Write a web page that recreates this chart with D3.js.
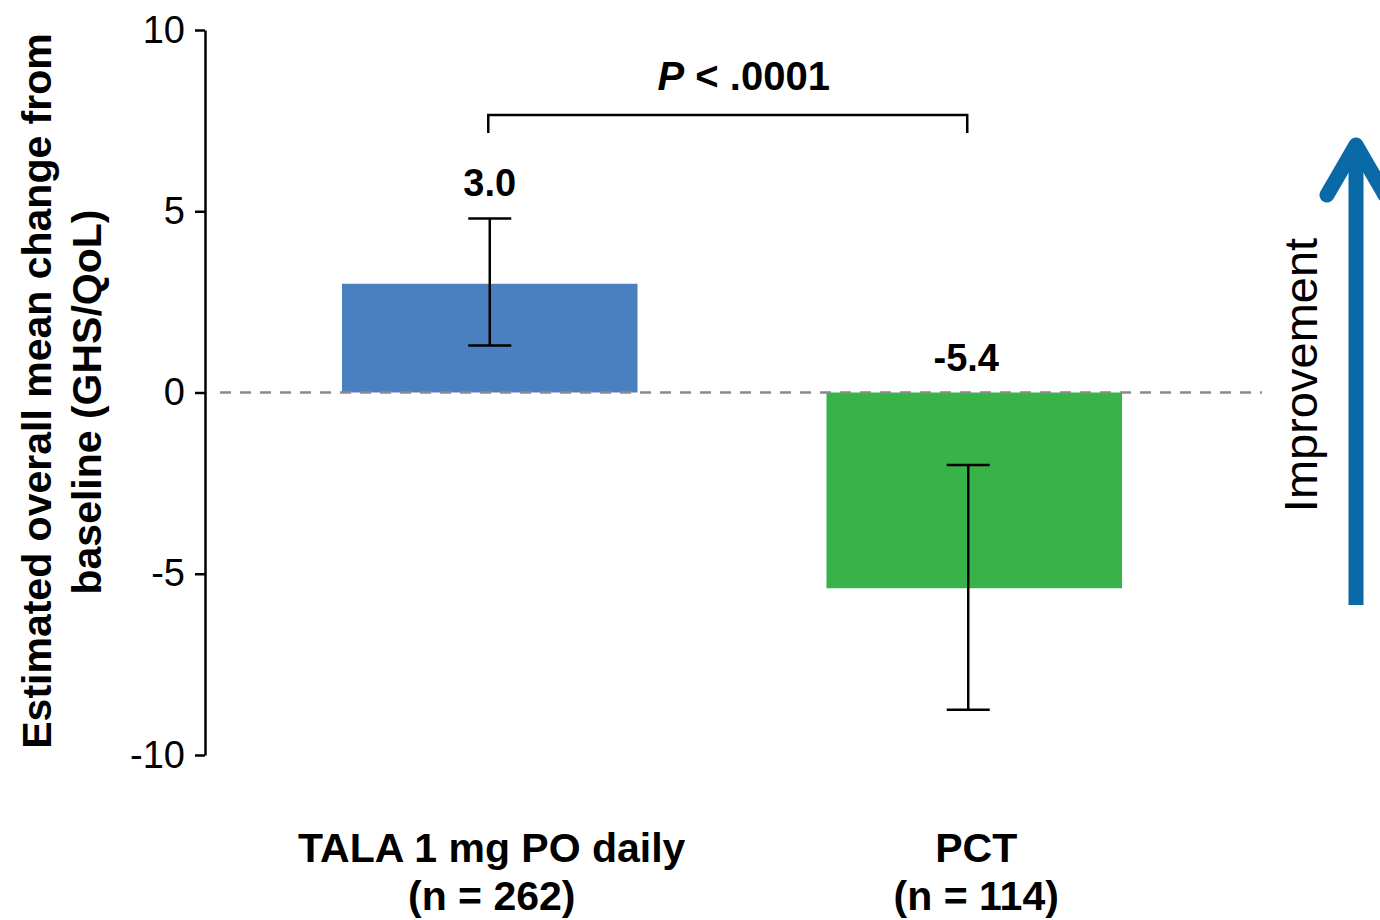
<!DOCTYPE html>
<html>
<head>
<meta charset="utf-8">
<script src="https://cdn.jsdelivr.net/npm/d3@7"></script>
<style>
  body { margin:0; background:#fff; }
  svg { display:block; font-family:"Liberation Sans", Arial, sans-serif; }
</style>
</head>
<body>
<svg id="svg" width="1380" height="920"></svg>
<script>
const groups = ['TALA 1 mg PO daily', 'PCT'];
const nLabels = ['(n = 262)', '(n = 114)'];
const means = [3.0, -5.4];
const lower = [1.3, -8.75];
const upper = [4.8, -2.0];
const colors = ['#4a7fc0', '#37b34a'];
const yTicks = [10, 5, 0, -5, -10];

const svg = d3.select('#svg');
const width = 1380, height = 920;

const y = d3.scaleLinear().domain([-10, 10]).range([755, 30]);
const x = d3.scaleBand().domain(groups).range([342, 1122]).paddingInner(0.39).paddingOuter(0);
const mid = d => x(d) + x.bandwidth() / 2;
const errShift = [0, -6];

// y axis
const ax = svg.append('g').attr('transform', 'translate(205,0)')
  .call(d3.axisLeft(y).tickValues(yTicks).tickFormat(d => String(d))
    .tickSize(10).tickSizeOuter(0).tickPadding(10));
ax.select('.domain').attr('stroke', '#000').attr('stroke-width', 2.5);
ax.selectAll('.tick line').attr('stroke', '#000').attr('stroke-width', 2.5);
ax.selectAll('.tick text').attr('font-size', 38).attr('fill', '#000')
  .attr('font-family', '"Liberation Sans", Arial, sans-serif');

// y label
const yl = svg.append('text').attr('transform', 'translate(0,395) rotate(-90)')
  .attr('text-anchor', 'middle').attr('font-weight', 'bold').attr('font-size', 41);
yl.append('tspan').attr('x', 4).attr('y', 51).text('Estimated overall mean change from');
yl.append('tspan').attr('x', -7).attr('y', 101).text('baseline (GHS/QoL)');

// bars
svg.append('g').selectAll('rect').data(groups).join('rect')
  .attr('x', d => x(d)).attr('width', x.bandwidth())
  .attr('y', (d, i) => y(Math.max(0, means[i])))
  .attr('height', (d, i) => Math.abs(y(means[i]) - y(0)))
  .attr('fill', (d, i) => colors[i]);

// zero line
svg.append('line').attr('x1', 220).attr('x2', 1262).attr('y1', y(0)).attr('y2', y(0))
  .attr('stroke', '#8a8a8a').attr('stroke-width', 2.5).attr('stroke-dasharray', '11,9');

// error bars
const eb = svg.append('g').attr('stroke', '#000').attr('stroke-width', 2.5);
groups.forEach((g, i) => {
  const cx = mid(g) + errShift[i];
  eb.append('line').attr('x1', cx).attr('x2', cx).attr('y1', y(lower[i])).attr('y2', y(upper[i]));
  [lower[i], upper[i]].forEach(v => eb.append('line')
    .attr('x1', cx - 21.5).attr('x2', cx + 21.5).attr('y1', y(v)).attr('y2', y(v)));
});

// value labels
svg.append('g').selectAll('text').data(groups).join('text')
  .attr('x', (d, i) => mid(d) + (i ? -8 : 0))
  .attr('y', (d, i) => i ? y(0) - 22 : y(upper[i]) - 23)
  .attr('text-anchor', 'middle').attr('font-weight', 'bold').attr('font-size', 38)
  .text((d, i) => means[i].toFixed(1));

// significance bracket
const bx1 = mid(groups[0]) - 1.5, bx2 = mid(groups[1]) - 7;
svg.append('path').attr('d', `M${bx1},133V115H${bx2}V133`)
  .attr('fill', 'none').attr('stroke', '#000').attr('stroke-width', 2.5);
const pt = svg.append('text').attr('x', (bx1 + bx2) / 2 + 16).attr('y', 90)
  .attr('text-anchor', 'middle').attr('font-weight', 'bold').attr('font-size', 40);
pt.append('tspan').attr('font-style', 'italic').text('P');
pt.append('tspan').text(' < .0001');

// category labels
const cl = svg.append('g').selectAll('text').data(groups).join('text')
  .attr('text-anchor', 'middle').attr('font-weight', 'bold').attr('font-size', 41);
cl.append('tspan').attr('x', d => mid(d) + 2).attr('y', 862).text(d => d);
cl.append('tspan').attr('x', d => mid(d) + 2).attr('y', 910).text((d, i) => nLabels[i]);

// improvement arrow
const arrow = svg.append('g').attr('stroke', '#0a6aa7').attr('stroke-width', 15)
  .attr('fill', 'none').attr('stroke-linecap', 'round').attr('stroke-linejoin', 'round');
arrow.append('line').attr('x1', 1356).attr('x2', 1356).attr('y1', 605).attr('y2', 150)
  .attr('stroke-linecap', 'butt');
arrow.append('path').attr('d', 'M1327,195L1356,145L1385,195');
svg.append('text').attr('transform', 'translate(1317,375) rotate(-90)')
  .attr('text-anchor', 'middle').attr('font-size', 47).text('Improvement');
</script>
</body>
</html>
